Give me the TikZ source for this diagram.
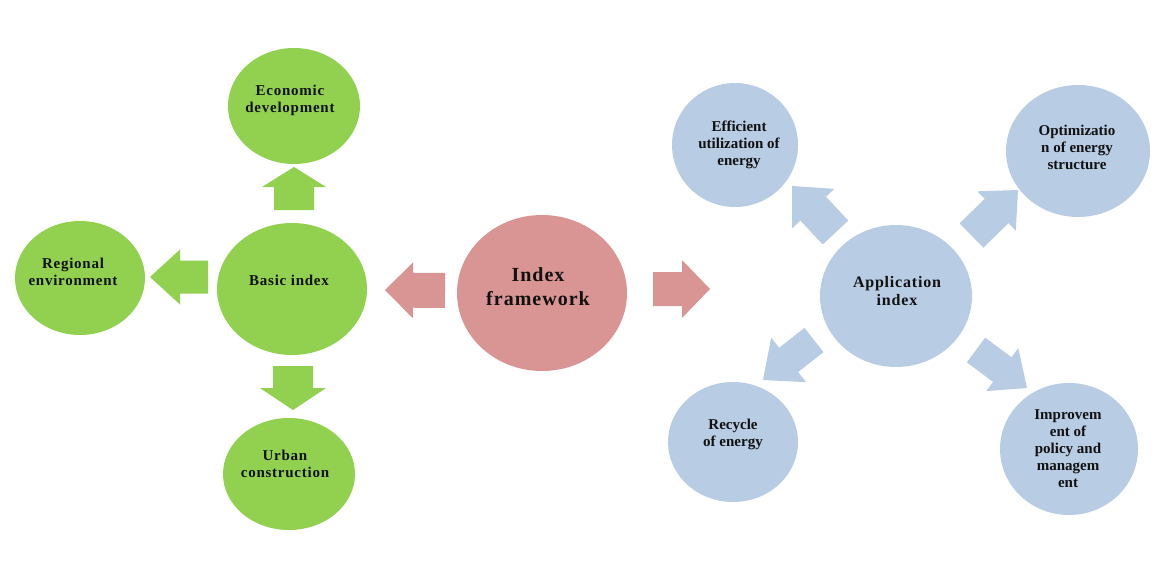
\documentclass[tikz,border=0pt]{standalone}
\usepackage{fontspec}
\setmainfont{Liberation Serif}
\newfontfamily\spacedfont[LetterSpace=5]{Liberation Serif}
\usetikzlibrary{calc,shapes.geometric}
\definecolor{grn}{HTML}{92D050}
\definecolor{pnk}{HTML}{D99594}
\definecolor{blu}{HTML}{B8CCE4}
\definecolor{txt}{HTML}{111111}
\newcommand{\blockarrow}[6]{%
  \coordinate (ba-s) at #1;
  \coordinate (ba-e) at #2;
  \coordinate (ba-h) at ($(ba-e)!#5!(ba-s)$);
  \fill[#6] ($(ba-s)!#3!90:(ba-e)$) -- ($(ba-h)!#3!-90:(ba-s)$) -- ($(ba-h)!#4!-90:(ba-s)$) -- (ba-e)
     -- ($(ba-h)!#4!90:(ba-s)$) -- ($(ba-h)!#3!90:(ba-s)$) -- ($(ba-s)!#3!-90:(ba-e)$) -- cycle;}
\tikzset{
  bubble/.style={ellipse, draw=none, inner sep=0pt},
  gbub/.style={bubble, fill=grn},
  pbub/.style={bubble, fill=pnk},
  bbub/.style={bubble, fill=blu},
  lbl/.style={text=txt, align=center, font=\bfseries\fontsize{15}{17}\selectfont, inner sep=0pt},
  slbl/.style={text=txt, align=center, font=\spacedfont\bfseries\fontsize{15}{17}\selectfont, inner sep=0pt},
  applbl/.style={text=txt, align=center, font=\spacedfont\bfseries\fontsize{16}{17.5}\selectfont, inner sep=0pt},
  biglbl/.style={text=txt, align=center, font=\spacedfont\bfseries\fontsize{20}{24}\selectfont, inner sep=0pt},
}
\begin{document}
\begin{tikzpicture}[x=1pt,y=-1pt]
\useasboundingbox[fill=white] (0,0) rectangle (1174,578);
% green group
\node[gbub, minimum width=132pt, minimum height=116pt] (eco) at (294,106) {};
\node[gbub, minimum width=150pt, minimum height=132pt] (basic) at (292,289) {};
\node[gbub, minimum width=130pt, minimum height=114pt] (reg) at (80,278) {};
\node[gbub, minimum width=132pt, minimum height=112pt] (urban) at (289,474) {};
% centre
\node[pbub, minimum width=170pt, minimum height=156pt] (ifw) at (542,293) {};
% blue group
\node[bbub, minimum width=152pt, minimum height=142pt] (app) at (896,296) {};
\node[bbub, minimum width=126pt, minimum height=124pt] (eff) at (735,145) {};
\node[bbub, minimum width=144pt, minimum height=132pt] (opt) at (1078,151) {};
\node[bbub, minimum width=130pt, minimum height=120pt] (rec) at (733,442) {};
\node[bbub, minimum width=138pt, minimum height=132pt] (imp) at (1069,449) {};
% labels
\node[slbl] (eco-t) at ($(eco)+(-4,-6)$) {Economic\\development};
\node[slbl] (basic-t) at ($(basic)+(-3,-9)$) {Basic index};
\node[slbl] (reg-t) at ($(reg)+(-7,-6)$) {Regional\\environment};
\node[slbl] (urban-t) at ($(urban)+(-4,-10)$) {Urban\\construction};
\node[biglbl] (ifw-t) at ($(ifw)+(-4,-6)$) {Index\\framework};
\node[applbl] (app-t) at ($(app)+(1,-5)$) {Application\\index};
\node[lbl] (eff-t) at ($(eff)+(4,0)$) {Efficient\\utilization of\\energy};
\node[lbl] (opt-t) at ($(opt)+(-1,-4)$) {Optimizatio\\n of energy\\structure};
\node[lbl] (rec-t) at ($(rec)+(0,-8)$) {Recycle\\of energy};
\node[lbl] (imp-t) at ($(imp)+(-1,0)$) {Improvem\\ent of\\policy and\\managem\\ent};
% block arrows
\blockarrow{($(basic)+(2,-79)$)}{($(eco)+(0,61)$)}{20pt}{32pt}{20pt}{grn}
\blockarrow{($(basic)+(-84,-12)$)}{($(reg)+(70,-1)$)}{16.5pt}{27.5pt}{30pt}{grn}
\blockarrow{($(basic)+(1,77)$)}{($(urban)+(4,-64)$)}{20pt}{33pt}{22pt}{grn}
\blockarrow{($(ifw)+(-97,-2.5)$)}{($(basic)+(93,1)$)}{17.5pt}{28pt}{28pt}{pnk}
\blockarrow{($(ifw)+(111,-4)$)}{($(app)+(-186,-7)$)}{17pt}{29pt}{28pt}{pnk}
\blockarrow{($(app)+(-60.5,-63.5)$)}{($(eff)+(57,41)$)}{17.5pt}{29pt}{31pt}{blu}
\blockarrow{($(app)+(75.5,-60.5)$)}{($(opt)+(-60,39)$)}{17pt}{27.5pt}{30pt}{blu}
\blockarrow{($(app)+(-82,44)$)}{($(rec)+(30,-62)$)}{15.4pt}{28.3pt}{32.6pt}{blu}
\blockarrow{($(app)+(80,54)$)}{($(imp)+(-42,-61)$)}{15.4pt}{26.8pt}{30.8pt}{blu}
\end{tikzpicture}
\end{document}
